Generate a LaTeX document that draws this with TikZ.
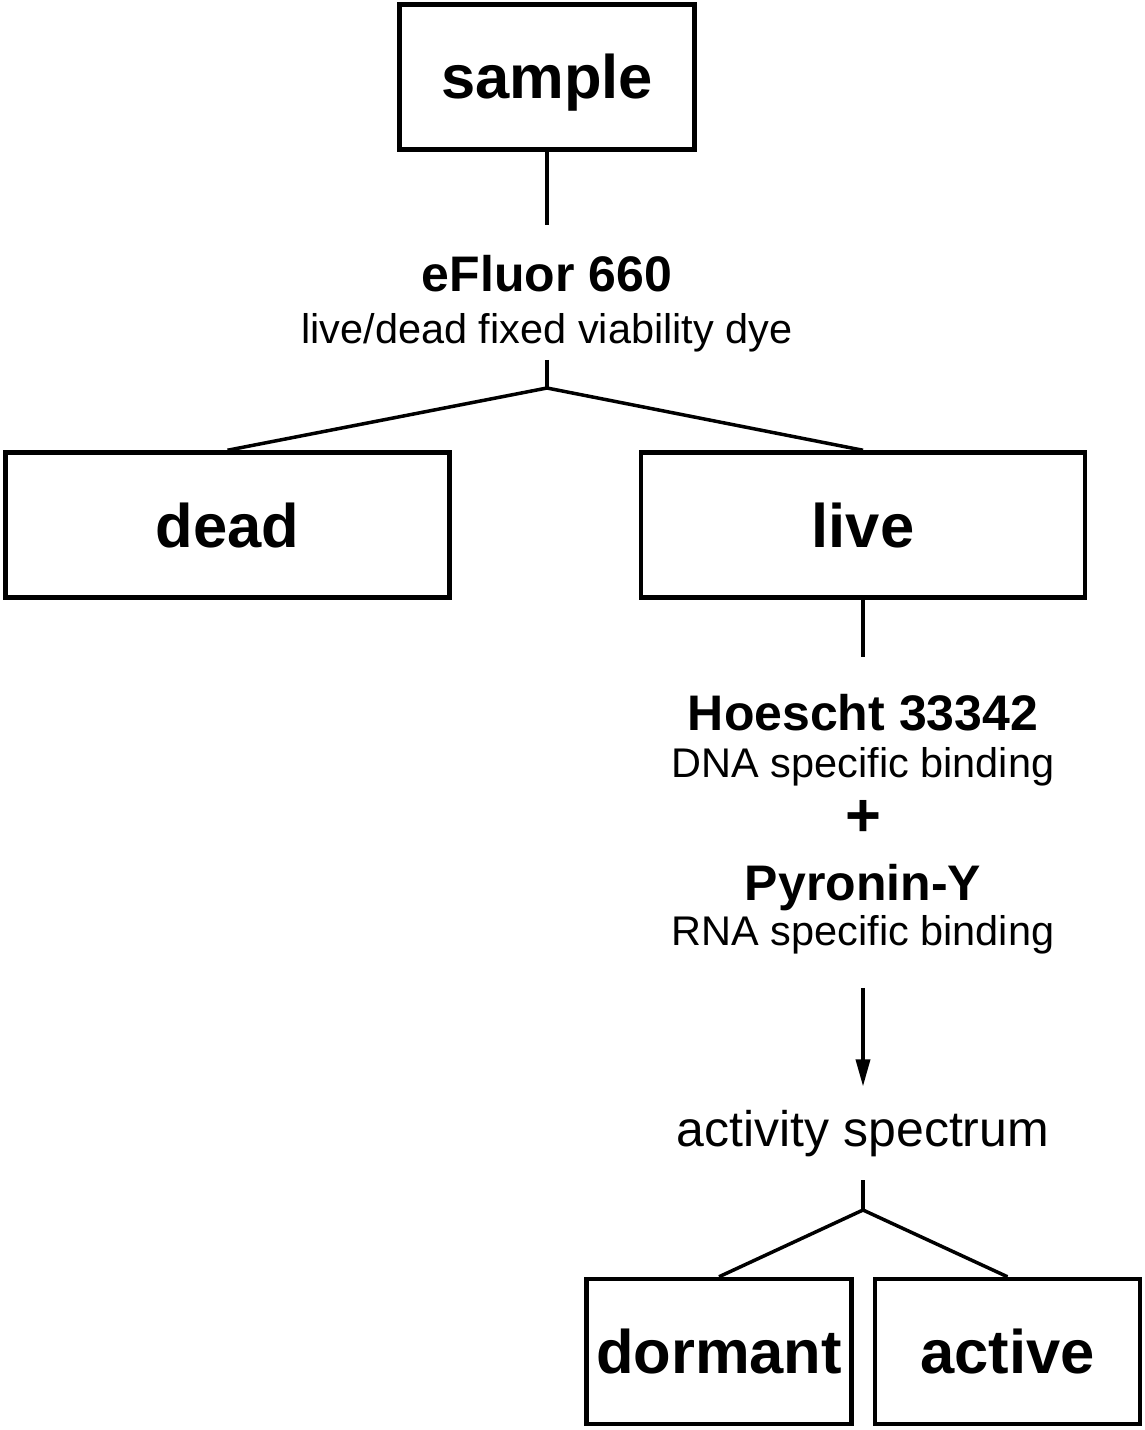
\documentclass[tikz,border=0pt]{standalone}
\usepackage{fontspec}
\setmainfont{Liberation Sans}
\usepackage{tikz}
\usetikzlibrary{arrows.meta}

\begin{document}
\begin{tikzpicture}[x=0.02cm, y=-0.02cm,
  box/.style={draw, line width=0.09cm, inner sep=0pt, minimum height=2.9cm,
    text height=0.88cm, text depth=0pt, font=\fontsize{35}{42}\selectfont\bfseries},
  stain/.style={inner sep=0pt, anchor=base, font=\fontsize{28.45}{34}\selectfont\bfseries},
  target/.style={inner sep=0pt, anchor=base, font=\fontsize{23.6}{28}\selectfont},
  link/.style={line width=0.07cm}]
\useasboundingbox (0,0) rectangle (1145,1430);

% boxes
\node[box, minimum width=5.9cm] (sample) at (547,77) {sample};
\node[box, minimum width=8.88cm] (dead) at (227.5,525) {dead};
\node[box, minimum width=8.88cm] (live) at (863,525) {live};
\node[box, minimum width=5.3cm] (dormant) at (719,1351.5) {dormant};
\node[box, minimum width=5.3cm] (active) at (1007.5,1351.5) {active};

% stains
\node[stain] (efluor) at (547,291) {eFluor 660};
\node[target] (efluorsub) at (547,343) {live/dead fixed viability dye};
\node[stain] (hoechst) at (863,730) {Hoescht 33342};
\node[target] (hoechstsub) at (863,777) {DNA specific binding};
\node[font=\fontsize{35}{42}\selectfont\bfseries, inner sep=0pt] (plus) at (863,818.5) {+};
\node[stain] (pyronin) at (863,900) {Pyronin-Y};
\node[target] (pyroninsub) at (863,945) {RNA specific binding};
\node[inner sep=0pt, anchor=base, font=\fontsize{28.45}{34}\selectfont] (spectrum) at (863,1146) {activity spectrum};

% first split
\coordinate (split1) at (547,388);
\draw[link, shorten >=0.58cm] (sample) -- (efluor);
\draw[link, shorten <=0.16cm] (efluorsub) -- (split1);
\foreach \kid in {dead,live}
  \draw[link] (split1) -- (\kid.north);

% live branch
\draw[link, shorten >=0.72cm] (live) -- (hoechst);
\draw[link, shorten <=0.68cm, shorten >=0.46cm,
  -{Triangle[length=0.54cm,width=0.28cm]}] (pyroninsub) -- (spectrum);

% second split
\coordinate (split2) at (863,1210);
\draw[link, shorten <=0.47cm] (spectrum) -- (split2);
\foreach \kid in {dormant,active}
  \draw[link] (split2) -- (\kid.north);
\end{tikzpicture}
\end{document}
